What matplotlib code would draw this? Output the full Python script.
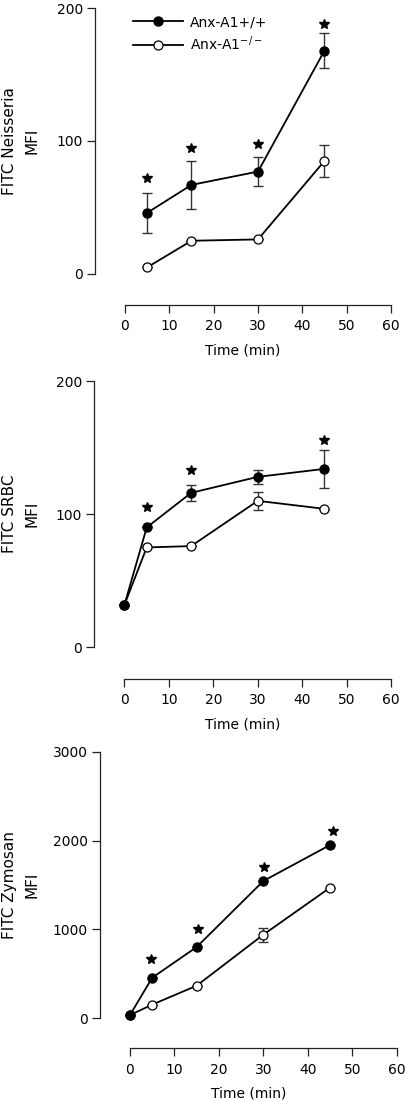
import matplotlib
matplotlib.use("Agg")
import matplotlib.pyplot as plt

plt.rcParams['font.family'] = ['DejaVu Sans']

W, H = 406, 1100

# ---- data ----
labels = ["Anx-A1+/+", "Anx-A1$^{-/-}$"]
xticks = [0, 10, 20, 30, 40, 50, 60]

# Panel 1: Neisseria
t1 = [5, 15, 30, 45]
wt1 = [46, 67, 77, 168]
wt1_err = [15, 18, 11, 13]
ko1 = [5, 25, 26, 85]
ko1_err = [0, 0, 0, 12]
star1_x = [5, 15, 30, 45]
star1_y = [72, 95, 98, 188]

# Panel 2: SRBC
t2 = [0, 5, 15, 30, 45]
wt2 = [32, 90, 116, 128, 134]
wt2_err = [0, 0, 6, 5, 14]
ko2 = [32, 75, 76, 110, 104]
ko2_err = [0, 0, 0, 7, 0]
star2_x = [5, 15, 45]
star2_y = [105, 133, 156]

# Panel 3: Zymosan
t3 = [0, 5, 15, 30, 45]
wt3 = [37, 457, 802, 1545, 1950]
wt3_err = [0, 0, 0, 0, 0]
ko3 = [37, 154, 367, 941, 1470]
ko3_err = [0, 0, 0, 77, 0]
star3_x = [4.8, 15.3, 30.1, 45.7]
star3_y = [670, 1000, 1700, 2105]

panels = [
    dict(t=t1, wt=wt1, wte=wt1_err, ko=ko1, koe=ko1_err, sx=star1_x, sy=star1_y,
         ylim=(0, 200), yticks=[0, 100, 200], ylabel="FITC Neisseria",
         box=(95, 8, 391, 274), xaxis=305, legend=True),
    dict(t=t2, wt=wt2, wte=wt2_err, ko=ko2, koe=ko2_err, sx=star2_x, sy=star2_y,
         ylim=(0, 200), yticks=[0, 100, 200], ylabel="FITC SRBC",
         box=(94.5, 381, 391, 647.3), xaxis=679, legend=False),
    dict(t=t3, wt=wt3, wte=wt3_err, ko=ko3, koe=ko3_err, sx=star3_x, sy=star3_y,
         ylim=(0, 3000), yticks=[0, 1000, 2000, 3000], ylabel="FITC Zymosan",
         box=(100, 751.7, 396.7, 1018.3), xaxis=1048.3, legend=False),
]

fig = plt.figure(figsize=(W / 100, H / 100), dpi=100)
FS = 10
ecol = "#333333"

for p in panels:
    l, t, r, b = p["box"]
    ax = fig.add_axes([l / W, 1 - b / H, (r - l) / W, (b - t) / H])
    span = r - l
    xlo = -30.0 * 60 / (span - 30)
    ax.set_xlim(xlo, 60)
    ax.set_ylim(*p["ylim"])
    for s in ["top", "right"]:
        ax.spines[s].set_visible(False)
    ax.spines["left"].set_bounds(p["ylim"][0], p["ylim"][1])
    ax.spines["bottom"].set_bounds(0, 60)
    ax.spines["bottom"].set_position(("outward", (p["xaxis"] - b) * 72 / 100))
    for s in ["left", "bottom"]:
        ax.spines[s].set_linewidth(0.9)
        ax.spines[s].set_color("#222222")
    ax.set_xticks(xticks)
    ax.set_yticks(p["yticks"])
    ax.tick_params(length=5.8, width=0.9, labelsize=FS, colors="#222222")
    ax.tick_params(axis="y", pad=3)
    ax.tick_params(axis="x", pad=4.5)
    ax.tick_params(labelcolor="black")

    ax.errorbar(p["t"], p["ko"], yerr=p["koe"], fmt="none", ecolor=ecol,
                elinewidth=1.0, capsize=3.5, capthick=1.0, clip_on=False, zorder=2)
    ax.errorbar(p["t"], p["wt"], yerr=p["wte"], fmt="none", ecolor=ecol,
                elinewidth=1.0, capsize=3.5, capthick=1.0, clip_on=False, zorder=2)
    ax.plot(p["t"], p["ko"], "-o", color="black", mfc="white", mec="black",
            ms=6.5, mew=0.9, lw=1.3, clip_on=False, zorder=3, label=labels[1])
    ax.plot(p["t"], p["wt"], "-o", color="black", mfc="black", mec="black",
            ms=6.5, lw=1.3, clip_on=False, zorder=4, label=labels[0])
    ax.plot(p["sx"], p["sy"], "*", color="black", ms=7, ls="none",
            clip_on=False, zorder=5)

    if p["legend"]:
        h, lab = ax.get_legend_handles_labels()
        ax.legend(h[::-1], lab[::-1], loc="upper left",
                  bbox_to_anchor=((133 - l) / span, (b - 15) / (b - t)),
                  frameon=False, fontsize=FS, handlelength=3.6, handletextpad=0.5,
                  labelspacing=0.4, borderaxespad=0, borderpad=0)

    ax.set_xlabel("Time (min)", fontsize=FS, labelpad=7)
    cy = 1 - (t + b) / 2 / H
    fig.text(10 / W, cy, p["ylabel"], rotation=90, ha="center", va="center", fontsize=11)
    fig.text(32 / W, cy, "MFI", rotation=90, ha="center", va="center", fontsize=11)

fig.savefig("out.png", dpi=100)
